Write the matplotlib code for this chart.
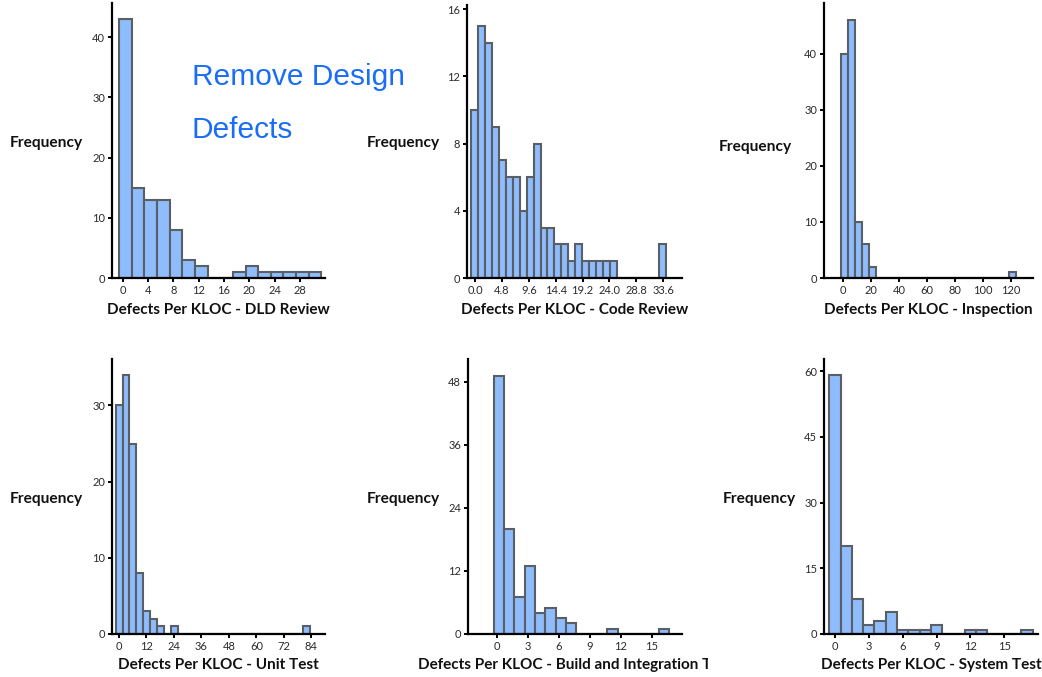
import matplotlib
matplotlib.use("Agg")
import matplotlib.pyplot as plt
from matplotlib.transforms import Bbox, TransformedBbox
import numpy as np

# ---- histogram data: counts per bin, first bin edge, bin width ----
dld_counts = [43, 15, 13, 13, 8, 3, 2, 0, 0, 1, 2, 1, 1, 1, 1, 1]
dld_start, dld_width = -0.6, 2.0

code_counts = [10, 15, 14, 9, 7, 6, 6, 4, 6, 8, 3, 3, 2, 2, 1, 2, 1, 1, 1, 1, 1,
               0, 0, 0, 0, 0, 0, 2]
code_start, code_width = -0.7, 1.24

insp_counts = [40, 46, 10, 6, 2] + [0] * 19 + [1]
insp_start, insp_width = -1.5, 5.0

unit_counts = [30, 34, 25, 8, 3, 2, 1, 0, 1] + [0] * 18 + [1]
unit_start, unit_width = -1.5, 3.03

build_counts = [49, 20, 7, 13, 4, 5, 3, 2, 0, 0, 0, 1, 0, 0, 0, 0, 1]
build_start, build_width = -0.3, 1.0

sys_counts = [59, 20, 8, 2, 3, 5, 1, 1, 1, 2, 0, 0, 1, 1, 0, 0, 0, 1]
sys_start, sys_width = -0.5, 1.0

# ---- tick values and labels ----
dld_xticks = [0, 4, 8, 12, 16, 20, 24, 28]
code_xticks = [0.0, 4.8, 9.6, 14.4, 19.2, 24.0, 28.8, 33.6]
insp_xticks = [0, 20, 40, 60, 80, 100, 120]
unit_xticks = [0, 12, 24, 36, 48, 60, 72, 84]
build_xticks = [0, 3, 6, 9, 12, 15]
sys_xticks = [0, 3, 6, 9, 12, 15]

dld_yticks = [0, 10, 20, 30, 40]
code_yticks = [0, 4, 8, 12, 16]
insp_yticks = [0, 10, 20, 30, 40]
unit_yticks = [0, 10, 20, 30]
build_yticks = [0, 12, 24, 36, 48]
sys_yticks = [0, 15, 30, 45, 60]

titles = ["Defects Per KLOC - DLD Review",
          "Defects Per KLOC - Code Review",
          "Defects Per KLOC - Inspection",
          "Defects Per KLOC - Unit Test",
          "Defects Per KLOC - Build and Integration Test",
          "Defects Per KLOC - System Test"]
ylabel_text = "Frequency"
note_lines = ["Remove Design", "Defects"]

W, H = 1042, 677
fig = plt.figure(figsize=(W / 100, H / 100), dpi=100)
fig.patch.set_facecolor("white")

BAR_FACE = "#8fbcfc"
BAR_EDGE = "#5a5f66"
LABEL_FONT = ["Lato", "DejaVu Sans"]


def px_axes(left, top, right, bottom):
    return fig.add_axes([left / W, 1 - bottom / H, (right - left) / W, (bottom - top) / H])


panels = [
    dict(counts=dld_counts, start=dld_start, width=dld_width, xt=dld_xticks, yt=dld_yticks,
         fmt="{:g}", box=(112, 3, 325, 278), xlim=(-1.7, 31.96), ylim=45.7,
         ylab=(10, 143), xlab_y=310),
    dict(counts=code_counts, start=code_start, width=code_width, xt=code_xticks, yt=code_yticks,
         fmt="{:.1f}", box=(467, 5, 682, 278), xlim=(-1.43, 36.96), ylim=16.25,
         ylab=(367, 143), xlab_y=310),
    dict(counts=insp_counts, start=insp_start, width=insp_width, xt=insp_xticks, yt=insp_yticks,
         fmt="{:g}", box=(824, 3, 1033, 278), xlim=(-13.8, 135.8), ylim=49.1,
         ylab=(719, 147), xlab_y=310),
    dict(counts=unit_counts, start=unit_start, width=unit_width, xt=unit_xticks, yt=unit_yticks,
         fmt="{:g}", box=(112, 359, 325, 634), xlim=(-3.06, 89.96), ylim=36.1,
         ylab=(10, 499), xlab_y=665),
    dict(counts=build_counts, start=build_start, width=build_width, xt=build_xticks, yt=build_yticks,
         fmt="{:g}", box=(468, 359, 682, 634), xlim=(-2.78, 17.94), ylim=52.3,
         ylab=(367, 499), xlab_y=665, clip_right=708),
    dict(counts=sys_counts, start=sys_start, width=sys_width, xt=sys_xticks, yt=sys_yticks,
         fmt="{:g}", box=(824, 359, 1038, 634), xlim=(-0.97, 17.98), ylim=62.75,
         ylab=(723, 499), xlab_y=665),
]

for p, title in zip(panels, titles):
    left, top, right, bottom = p["box"]
    ax = px_axes(left, top, right, bottom)
    counts = np.asarray(p["counts"], dtype=float)
    edges = p["start"] + p["width"] * np.arange(len(counts))
    ax.bar(edges, counts, width=p["width"], align="edge", color=BAR_FACE,
           edgecolor=BAR_EDGE, linewidth=1.5, zorder=1)
    ax.set_xlim(*p["xlim"])
    ax.set_ylim(0, p["ylim"])
    ax.set_xticks(p["xt"])
    ax.set_xticklabels([p["fmt"].format(v) for v in p["xt"]])
    ax.set_yticks(p["yt"])
    for side in ("top", "right"):
        ax.spines[side].set_visible(False)
    for side in ("left", "bottom"):
        ax.spines[side].set_linewidth(1.6)
        ax.spines[side].set_color("black")
        ax.spines[side].set_zorder(3)
    ax.tick_params(axis="both", direction="out", length=3, width=1.4, color="black",
                   labelsize=8, labelcolor="#2a2a2a", pad=2)
    for lab in ax.get_xticklabels() + ax.get_yticklabels():
        lab.set_fontfamily(LABEL_FONT)
    ax.set_facecolor("none")

    # horizontal frequency label left of each panel
    fx, fy = p["ylab"]
    fig.text(fx / W, 1 - fy / H, ylabel_text, ha="left", va="center",
             fontsize=11.2, fontweight="bold", family=LABEL_FONT, color="#111111")

    # x-axis caption, centred under the axes
    cx = (left + right) / 2
    t = fig.text(cx / W, 1 - p["xlab_y"] / H, title, ha="center", va="center",
                 fontsize=11, fontweight="bold", family=LABEL_FONT, color="#111111")
    if "clip_right" in p:
        t.set_clip_box(TransformedBbox(Bbox.from_extents(0, 0, p["clip_right"] / W, 1),
                                       fig.transFigure))
        t.set_clip_on(True)

# blue annotation in the first panel
fig.text(192 / W, 1 - 77 / H, note_lines[0], ha="left", va="center", fontsize=21.5,
         family=["Liberation Sans", "DejaVu Sans"], color="#1a6ef5")
fig.text(192 / W, 1 - 130 / H, note_lines[1], ha="left", va="center", fontsize=21.5,
         family=["Liberation Sans", "DejaVu Sans"], color="#1a6ef5")

fig.savefig("out.png", dpi=100, facecolor="white")
